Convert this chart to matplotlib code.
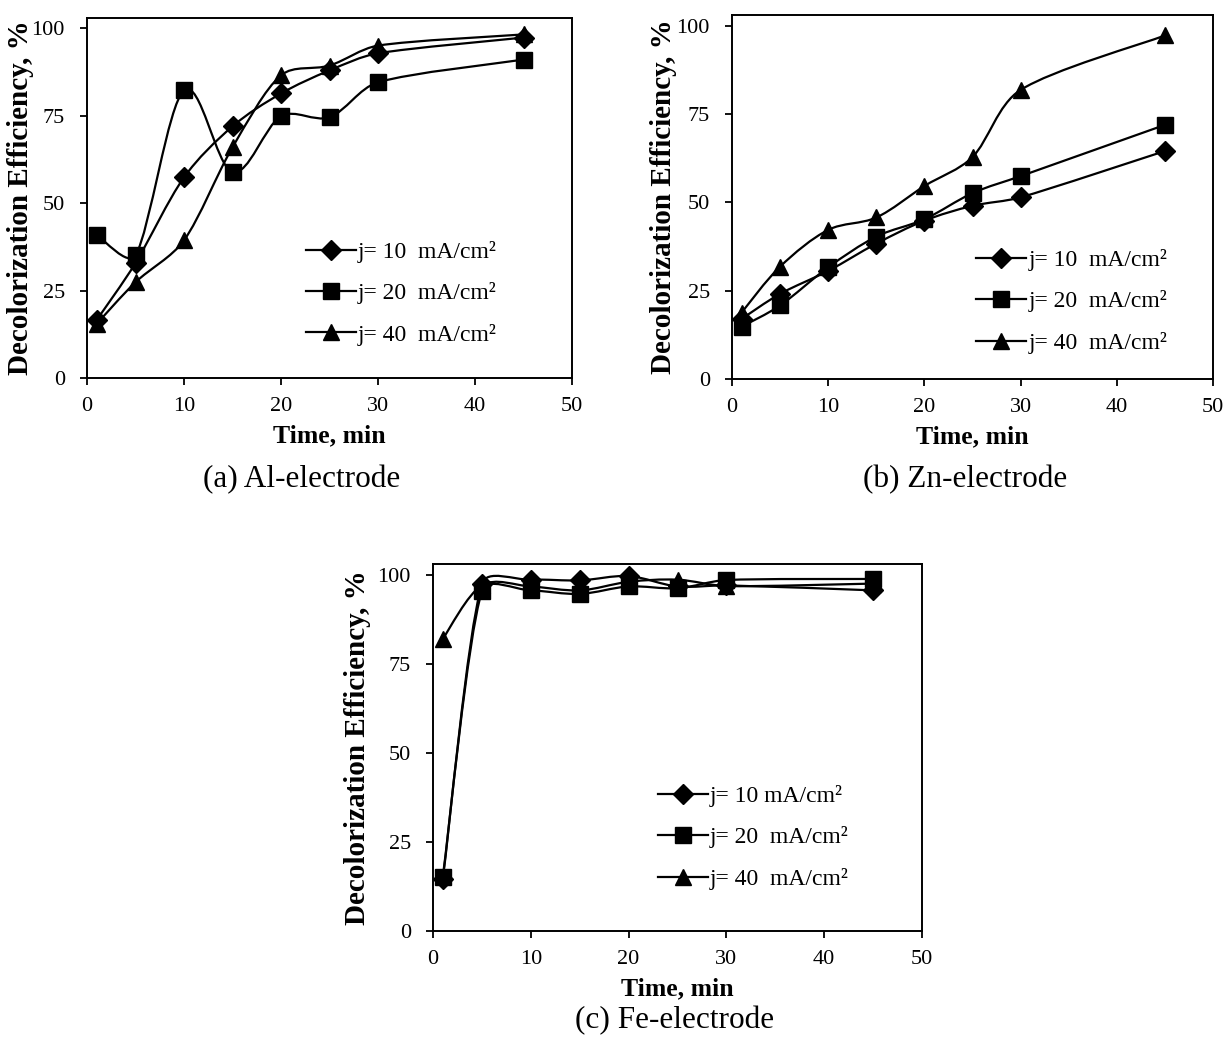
import numpy as np
import matplotlib
matplotlib.use("Agg")
import matplotlib.pyplot as plt
from matplotlib.path import Path
from matplotlib.patches import PathPatch

plt.rcParams['font.family'] = ['Liberation Serif', 'DejaVu Serif']

############ data #############################################################

time = [1, 5, 10, 15, 20, 25, 30, 45]

al_10 = [16.6, 32.9, 57.4, 72.0, 81.4, 88.0, 92.9, 97.4]
al_20 = [40.9, 35.1, 82.3, 58.9, 74.9, 74.6, 84.6, 91.1]
al_40 = [15.5, 27.4, 39.4, 66.0, 86.6, 89.4, 95.1, 98.3]

zn_10 = [17.0, 24.1, 30.6, 38.3, 44.8, 49.0, 51.4, 64.5]
zn_20 = [14.8, 20.8, 31.6, 40.3, 45.2, 52.6, 57.4, 71.9]
zn_40 = [18.8, 31.8, 42.2, 45.7, 54.6, 62.8, 81.8, 97.2]

fe_10 = [14.5, 97.4, 98.6, 98.4, 99.6, 96.7, 97.0, 95.6]
fe_20 = [15.2, 95.4, 95.6, 94.6, 96.7, 96.2, 98.5, 98.8]
fe_40 = [82.0, 97.0, 96.7, 95.6, 98.0, 98.6, 96.8, 97.5]

labels_ab = ['j= 10  mA/cm²', 'j= 20  mA/cm²', 'j= 40  mA/cm²']
labels_c = ['j= 10 mA/cm²', 'j= 20  mA/cm²', 'j= 40  mA/cm²']
markers = ['D', 's', '^']
msizes = [10, 12, 12]

############ functions #############################################################

def smooth_path(x, y, sx, sy):
    # excel-like smoothed line: catmull-rom beziers, worked out in pixel units
    # and with the control arms capped so steep jumps don't overshoot much
    pts = np.column_stack([np.array(x) * sx, np.array(y) * sy]).astype(float)
    n = len(pts)
    verts = [pts[0]]
    codes = [Path.MOVETO]
    for i in range(n - 1):
        p0 = pts[i - 1] if i > 0 else pts[i]
        p1 = pts[i]
        p2 = pts[i + 1]
        p3 = pts[i + 2] if i + 2 < n else pts[i + 1]
        seg = np.hypot(*(p2 - p1))
        t1 = (p2 - p0) / 6.0
        t2 = (p3 - p1) / 6.0
        for t in (t1, t2):
            ln = np.hypot(*t)
            if ln > seg / 3.0:
                t *= (seg / 3.0) / ln
        verts += [p1 + t1, p2 - t2, p2]
        codes += [Path.CURVE4] * 3
    verts = np.array(verts) / [sx, sy]
    return Path(verts, codes)

def draw_panel(rect, series, labels, caption, cap_xy, leg_anchor, ylab_x):
    ax = fig.add_axes(rect)
    sx = rect[2] * 1227 / 50.0
    sy = rect[3] * 1041 / 103.0
    for k, ys in enumerate(series):
        ax.add_patch(PathPatch(smooth_path(time, ys, sx, sy), fill=False, lw=1.6,
                               edgecolor='black', zorder=2))
        ax.plot(time, ys, ls='none', marker=markers[k], ms=msizes[k],
                color='black', zorder=3)
        ax.plot([], [], '-', marker=markers[k], ms=msizes[k], lw=1.6,
                color='black', label=labels[k])
    ax.set_xlim(0, 50)
    ax.set_ylim(0, 103)
    ax.set_xticks([0, 10, 20, 30, 40, 50])
    ax.set_yticks([0, 25, 50, 75, 100])
    ax.tick_params(direction='out', length=5, width=1.3, labelsize=16)
    ax.tick_params(axis='x', pad=9)
    ax.tick_params(axis='y', pad=11)
    for s in ax.spines.values():
        s.set_linewidth(1.4)
    ax.set_xlabel('Time, min', fontsize=18.5, fontweight='bold', labelpad=6)
    ax.set_ylabel('Decolorization Efficiency, %', fontsize=21, fontweight='bold')
    ax.yaxis.set_label_coords(ylab_x, 0.5)
    ax.legend(loc='center left', bbox_to_anchor=leg_anchor, frameon=False,
              fontsize=17, handlelength=2.1, handletextpad=0.1, labelspacing=0.82)
    fig.text(cap_xy[0] / 1227, 1 - cap_xy[1] / 1041, caption, fontsize=22.5,
             ha='center', va='center')
    return ax

############ main code #############################################################

fig = plt.figure(figsize=(12.27, 10.41), dpi=100)

draw_panel([87 / 1227, 1 - 378 / 1041, 485 / 1227, 360 / 1041],
           [al_10, al_20, al_40], labels_ab, '(a) Al-electrode', (302, 480),
           (0.408, 0.235), -0.109)
draw_panel([732 / 1227, 1 - 379 / 1041, 481 / 1227, 364 / 1041],
           [zn_10, zn_20, zn_40], labels_ab, '(b) Zn-electrode', (965, 480),
           (0.464, 0.213), -0.114)
draw_panel([433 / 1227, 1 - 931 / 1041, 489 / 1227, 367 / 1041],
           [fe_10, fe_20, fe_40], labels_c, '(c) Fe-electrode', (675, 1021),
           (0.417, 0.255), -0.126)

fig.savefig('out.png', dpi=100)
